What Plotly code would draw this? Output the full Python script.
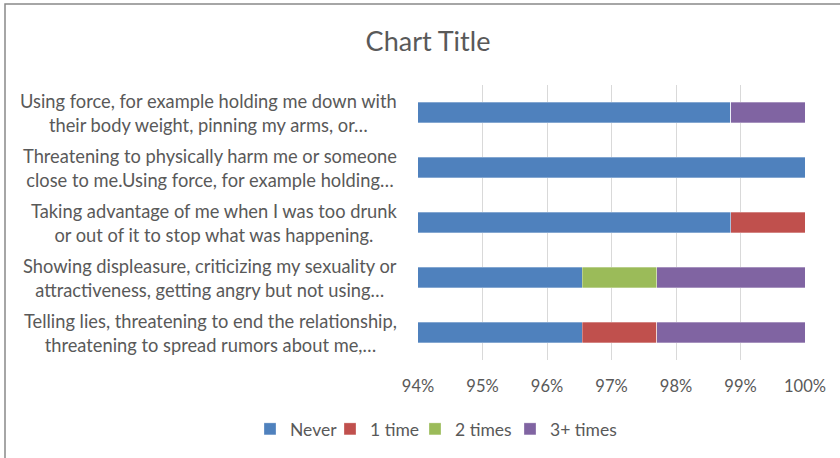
import plotly.graph_objects as go

categories = [
    "Telling lies, threatening to end the relationship,<br>threatening to spread rumors about me,…",
    "Showing displeasure, criticizing my sexuality or<br>attractiveness, getting angry but not using…",
    "Taking advantage of me when I was too drunk<br>or out of it to stop what was happening.",
    "Threatening to physically harm me or someone<br>close to me.Using force, for example holding…",
    "Using force, for example holding me down with<br>their body weight, pinning my arms, or…",
]
series_names = ["Never", "1 time", "2 times", "3+ times"]
never = [0.9655, 0.9655, 0.9885, 1.0, 0.9885]
one_time = [0.0115, 0.0, 0.0115, 0.0, 0.0]
two_times = [0.0, 0.0115, 0.0, 0.0, 0.0]
three_plus = [0.0230, 0.0230, 0.0, 0.0, 0.0115]
tick_vals = [0.94, 0.95, 0.96, 0.97, 0.98, 0.99, 1.00]
tick_text = ["94%", "95%", "96%", "97%", "98%", "99%", "100%"]

colors = ["#4F81BD", "#C0504D", "#9BBB59", "#8064A2"]
legend_widths = [35, 40, 50, 70]
values = [never, one_time, two_times, three_plus]

W, H = 840, 458
ml, mt = 418, 85
pw, ph = 805 - 418, 360 - 85
mr, mb = W - ml - pw, H - mt - ph

def px_x(x):
    return (x - ml) / pw

def px_y(y):
    return (mt + ph - y) / ph

fig = go.Figure()
for name, vals, col, lw in zip(series_names, values, colors, legend_widths):
    fig.add_trace(go.Bar(
        y=list(range(len(categories))), x=vals, name=name, orientation="h",
        marker=dict(color=col, line=dict(width=0.6, color="rgba(255,255,255,0.5)")),
        hoverinfo="x+name", legendwidth=lw,
    ))

font_fam = "Lato, Open Sans, sans-serif"
txt_col = "#595959"

annotations = []
for i, c in enumerate(categories):
    annotations.append(dict(
        x=px_x(399), xref="paper", y=i, yref="y", text=c,
        showarrow=False, xanchor="right", yanchor="middle", align="center",
        font=dict(family=font_fam, size=18.3, color=txt_col),
    ))

fig.update_layout(
    width=W, height=H,
    margin=dict(l=ml, r=mr, t=mt, b=mb, autoexpand=False),
    barmode="stack", bargap=0.62,
    paper_bgcolor="white", plot_bgcolor="white",
    title=dict(text="Chart Title", x=428 / W, xanchor="center",
               y=1 - 42 / H, yanchor="middle",
               font=dict(family=font_fam, size=27, color=txt_col)),
    xaxis=dict(range=[0.94, 1.0], tickvals=tick_vals, ticktext=tick_text,
               showgrid=True, gridcolor="#D9D9D9", gridwidth=1, zeroline=False,
               showline=False, ticks="", ticklen=0, ticklabelstandoff=14,
               tickfont=dict(family=font_fam, size=16.5, color=txt_col)),
    yaxis=dict(range=[-0.5, 4.5], showticklabels=False, showgrid=False, zeroline=False,
               showline=False, ticks=""),
    legend=dict(orientation="h", x=px_x(250), xanchor="left", y=px_y(429),
                yanchor="middle", traceorder="normal",
                font=dict(family=font_fam, size=17.5, color=txt_col), itemwidth=30),
    annotations=annotations,
    shapes=[dict(type="rect", xref="paper", yref="paper",
                 x0=px_x(5), x1=px_x(870),
                 y0=px_y(490), y1=px_y(4),
                 line=dict(color="#898989", width=1.5), fillcolor="rgba(0,0,0,0)", layer="below")],
)

fig.write_html("out.html", config={"displayModeBar": False},
               post_script="document.body.style.margin='0px';")
